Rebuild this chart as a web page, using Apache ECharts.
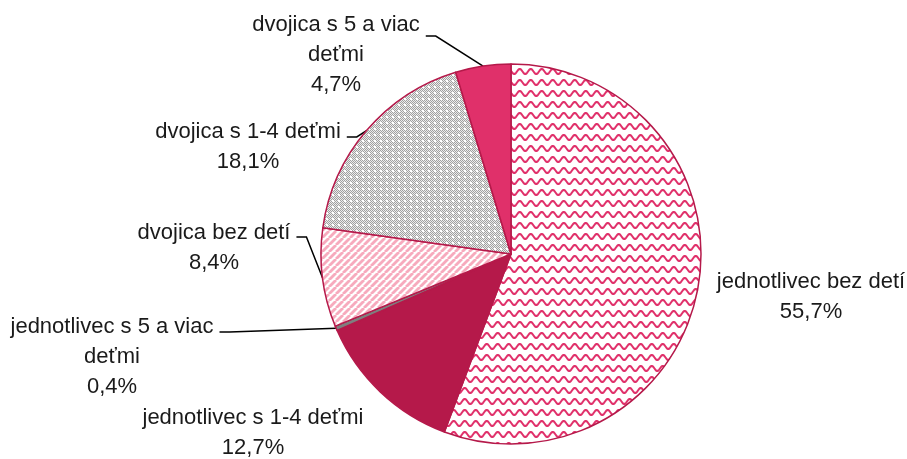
<!DOCTYPE html>
<html>
<head>
<meta charset="utf-8">
<script src="https://cdn.jsdelivr.net/npm/echarts@6/dist/echarts.min.js"></script>
<style>
html,body{margin:0;padding:0;background:#fff;}
#chart{width:907px;height:459px;}
</style>
</head>
<body>
<div id="chart"></div>
<script>
var names = ['jednotlivec bez detí','jednotlivec s 1-4 deťmi','jednotlivec s 5 a viac deťmi','dvojica bez detí','dvojica s 1-4 deťmi','dvojica s 5 a viac deťmi'];
var labelTexts = ['jednotlivec bez detí','jednotlivec s 1-4 deťmi','jednotlivec s 5 a viac\ndeťmi','dvojica bez detí','dvojica s 1-4 deťmi','dvojica s 5 a viac\ndeťmi'];
var values = [55.7,12.7,0.4,8.4,18.1,4.7];

// label placement: centre of the whole text block, and where the leader line meets the first line
var labelPos = [[811,297],[253,433],[112,357],[214,248],[248,147],[336,55]];
var firstLinePos = [[811,282],[253,418],[112,332],[214,237],[248,137],[336,36]];
var showLine = [false,false,true,true,true,true];

var FONT = "'Liberation Sans',Arial,sans-serif";

function tile(w,h,draw){
	var c = document.createElement('canvas');
	c.width = w; c.height = h;
	var ctx = c.getContext('2d');
	ctx.fillStyle = '#fff';
	ctx.fillRect(0,0,w,h);
	draw(ctx);
	return {image:c,repeat:'repeat'};
}

var wave = tile(11,11,function(ctx){
	ctx.strokeStyle = '#e0306a';
	ctx.lineWidth = 2;
	ctx.beginPath();
	for(var x = -1;x<=12;x+=0.5){
		var y = 5.5 - 2.5*Math.sin(x/11*Math.PI*2);
		if(x==-1) ctx.moveTo(x,y); else ctx.lineTo(x,y);
	}
	ctx.stroke();
});

var stripes = tile(7,7,function(ctx){
	ctx.strokeStyle = '#f7aabd';
	ctx.lineWidth = 2.8;
	for(var k = -7;k<=14;k+=7){
		ctx.beginPath();
		ctx.moveTo(k-7,7);
		ctx.lineTo(k,0);
		ctx.stroke();
	}
});

var dots = tile(6,6,function(ctx){
	for(var i = 0;i<6;i++){
		for(var j = 0;j<6;j++){
			ctx.fillStyle = (i+j)%2 ? '#ececec' : '#a0a0a0';
			ctx.fillRect(i,j,1,1);
		}
	}
	ctx.fillStyle = '#fff';
	ctx.fillRect(2,2,2,2);
});

var fills = [wave,'#b5194a','#7f7f7f',stripes,dots,'#e0306a'];

var data = [], lineData = [];
for(var i = 0;i<values.length;i++){
	data.push({
		name:names[i],
		value:values[i],
		itemStyle:{color:fills[i]}
	});
	lineData.push({
		name:names[i],
		value:values[i],
		label:{show:showLine[i]},
		labelLine:{show:showLine[i]}
	});
}

var chart = echarts.init(document.getElementById('chart'),null,{renderer:'canvas'});
chart.setOption({
	animation:false,
	series:[{
		type:'pie',
		center:[511,254],
		radius:190,
		startAngle:90,
		clockwise:true,
		data:data,
		itemStyle:{borderColor:'#b5194a',borderWidth:1.5},
		label:{
			show:true,
			color:'#1a1a1a',
			fontFamily:FONT,
			fontSize:22,
			lineHeight:30,
			align:'center',
			overflow:'none',
			formatter:function(p){
				return labelTexts[p.dataIndex] + '\n' + p.value.toFixed(1).replace('.',',') + '%';
			}
		},
		labelLine:{show:false},
		labelLayout:function(p){
			var pos = labelPos[p.dataIndex];
			return {x:pos[0],y:pos[1],align:'center',verticalAlign:'middle'};
		}
	},{
		// invisible copy that only carries the leader lines to the first label line
		type:'pie',
		silent:true,
		center:[511,254],
		radius:190,
		startAngle:90,
		clockwise:true,
		data:lineData,
		itemStyle:{color:'rgba(0,0,0,0)',borderWidth:0},
		emphasis:{disabled:true},
		label:{
			color:'rgba(0,0,0,0)',
			fontFamily:FONT,
			fontSize:22,
			lineHeight:30,
			padding:[0,6],
			overflow:'none',
			formatter:function(p){
				return labelTexts[p.dataIndex].split('\n')[0];
			}
		},
		labelLine:{
			length:10,
			length2:10,
			lineStyle:{color:'#000',width:1.5}
		},
		labelLayout:function(p){
			var pos = firstLinePos[p.dataIndex];
			return {x:pos[0],y:pos[1],align:'center',verticalAlign:'middle'};
		}
	}]
});
</script>
</body>
</html>
